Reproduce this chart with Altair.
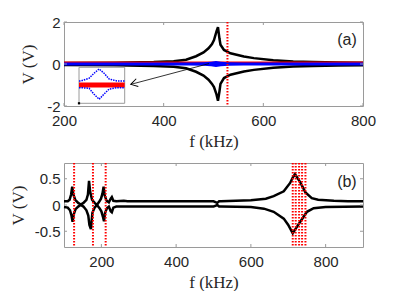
import altair as alt
import pandas as pd

W, H = 299, 84

# ---------------- Panel (a) data ----------------
a_f = [200, 300, 380, 420, 445, 465, 480, 490, 497, 501, 506, 509, 512, 514, 521, 534, 561, 581, 620, 660, 700, 750, 800]
a_up = [0.05, 0.06, 0.09, 0.13, 0.2, 0.37, 0.55, 0.75, 0.95, 1.14, 1.55, 1.75, 1.2, 0.92, 0.67, 0.51, 0.36, 0.28, 0.18, 0.12, 0.09, 0.07, 0.06]
a_lo = [-0.05, -0.06, -0.09, -0.13, -0.2, -0.37, -0.55, -0.75, -0.95, -1.1, -1.45, -1.75, -1.3, -0.95, -0.67, -0.51, -0.36, -0.28, -0.18, -0.12, -0.09, -0.07, -0.06]

a_blue_f = [200, 450, 480, 495, 505, 515, 530, 560, 800]
a_blue_up = [0.07, 0.07, 0.08, 0.11, 0.14, 0.11, 0.08, 0.07, 0.07]
a_blue_lo = [-0.07, -0.07, -0.08, -0.11, -0.14, -0.11, -0.08, -0.07, -0.07]

a_red_f = [200, 800]
a_red_v = [0.08, 0.08]

a_vlines = [528]

arrow_f = [491, 334]
arrow_v = [0.02, -0.97]

# inset (magnified blue / red traces)
in_f = [460, 464, 482, 493, 504, 515, 526, 543, 560]
in_blue_up = [0.029, 0.029, 0.047, 0.08, 0.109, 0.08, 0.042, 0.029, 0.029]
in_blue_lo = [-0.016, -0.016, -0.02, -0.06, -0.093, -0.058, -0.025, -0.016, -0.016]
in_red_f = [460, 560]
in_red_v = [0.002, 0.002]
in_dom_f = [460, 560]
in_dom_v = [-0.12, 0.12]

# ---------------- Panel (b) data ----------------
b_up_f = [100, 110, 115, 119, 122, 125, 130, 138, 145, 152, 160, 164, 167, 170, 175, 182, 188, 194, 199, 203,
          206, 209, 214, 220, 225, 228, 232, 240, 260, 270, 300, 400, 500, 510, 515, 520, 600, 640, 661, 688,
          705, 712, 718, 733, 746, 763, 780, 822, 860, 900]
b_up = [0.07, 0.07, 0.1, 0.2, 0.35, 0.2, 0.1, 0.04, 0.01, 0.04, 0.1, 0.2, 0.46, 0.25, 0.1, 0.04, 0.0, 0.06, 0.12, 0.22,
        0.35, 0.18, 0.08, 0.05, 0.12, 0.15, 0.08, 0.07, 0.08, 0.07, 0.07, 0.07, 0.07, 0.04, 0.07, 0.07, 0.09, 0.12, 0.17, 0.26,
        0.42, 0.52, 0.59, 0.42, 0.24, 0.13, 0.1, 0.08, 0.07, 0.07]
b_lo_f = [100, 110, 116, 120, 123, 126, 131, 138, 145, 152, 160, 165, 168, 172, 176, 182, 188, 195, 200, 204,
          207, 210, 215, 220, 225, 228, 232, 240, 300, 400, 500, 510, 515, 520, 600, 635, 661, 688, 700, 712,
          720, 733, 750, 768, 800, 900]
b_lo = [-0.04, -0.05, -0.1, -0.2, -0.32, -0.18, -0.08, -0.03, 0.0, -0.03, -0.1, -0.2, -0.38, -0.46, -0.15, -0.05, 0.0, -0.06, -0.12, -0.22,
        -0.31, -0.15, -0.06, -0.03, -0.12, -0.14, -0.05, -0.03, -0.03, -0.03, -0.03, 0.0, -0.03, -0.03, -0.04, -0.07, -0.13, -0.26, -0.38, -0.54,
        -0.45, -0.31, -0.13, -0.06, -0.04, -0.03]
b_vlines = [127, 177.5, 211.5, 712, 720, 729, 737, 746]

a_xticks = [200, 400, 600, 800]
a_yticks = [-2, 0, 2]
b_xticks = [200, 400, 600, 800]
b_yticks = [-0.5, 0, 0.5]

FRAME = "#9a9a9a"
TXT = "#262626"
LBL = "datum.value < 0 ? '-' + format(-datum.value, '') : format(datum.value, '')"


def make_panel(xdom, ydom, xticks, yticks, layers_fn, label, label_pos, ytitle_x):
    def X(field="f"):
        return alt.X(f"{field}:Q", scale=alt.Scale(domain=xdom, nice=False, zero=False),
                     axis=alt.Axis(values=xticks, title="f (kHz)", labelExpr=LBL, titlePadding=5,
                                   labelPadding=7))

    def Y(field="v"):
        return alt.Y(f"{field}:Q", scale=alt.Scale(domain=ydom, nice=False, zero=False),
                     axis=alt.Axis(values=yticks, title="V (V)", labelExpr=LBL, titleX=ytitle_x,
                                   titleY=H / 2))

    layers = layers_fn(X, Y)
    # inside ticks
    xt = pd.DataFrame({"f": xticks})
    yt = pd.DataFrame({"v": yticks})
    tk = dict(color=FRAME, strokeWidth=1)
    layers += [
        alt.Chart(xt).mark_rule(**tk).encode(x=X(), y=alt.value(0), y2=alt.value(3)),
        alt.Chart(xt).mark_rule(**tk).encode(x=X(), y=alt.value(H - 3), y2=alt.value(H)),
        alt.Chart(yt).mark_rule(**tk).encode(y=Y(), x=alt.value(0), x2=alt.value(3)),
        alt.Chart(yt).mark_rule(**tk).encode(y=Y(), x=alt.value(W - 3), x2=alt.value(W)),
    ]
    lab = pd.DataFrame({"f": [label_pos[0]], "v": [label_pos[1]], "t": [label]})
    layers.append(alt.Chart(lab).mark_text(font="Liberation Sans", fontSize=16, color=TXT,
                                           align="center", baseline="middle").encode(x=X(), y=Y(), text="t:N"))
    return layers


def layers_a(X, Y):
    black = pd.DataFrame({"f": a_f, "up": a_up, "lo": a_lo})
    blue = pd.DataFrame({"f": a_blue_f, "up": a_blue_up, "lo": a_blue_lo})
    red = pd.DataFrame({"f": a_red_f, "v": a_red_v})
    vl = pd.DataFrame({"f": a_vlines})
    arr = pd.DataFrame({"f": arrow_f, "v": arrow_v, "o": [0, 1]})
    head = pd.DataFrame({"f": arrow_f[1:], "v": arrow_v[1:]})
    return [
        alt.Chart(black).mark_line(color="black", strokeWidth=2.5).encode(x=X(), y=Y("up")),
        alt.Chart(black).mark_line(color="black", strokeWidth=2.5).encode(x=X(), y=Y("lo")),
        alt.Chart(red).mark_line(color="#ff0000", strokeWidth=1.5).encode(x=X(), y=Y()),
        alt.Chart(blue).mark_area(color="#0000ff", opacity=1).encode(x=X(), y=Y("lo"), y2="up:Q"),
        alt.Chart(vl).mark_rule(color="#ff0000", strokeWidth=2, strokeDash=[1.5, 1.5]).encode(x=X()),
        alt.Chart(arr).mark_line(color="black", strokeWidth=0.8).encode(x=X(), y=Y(), order="o:Q"),
        alt.Chart(head).mark_point(shape="M2,-1.2L0,0L2,1.2", filled=False, color="black", strokeWidth=1,
                                   size=45, angle=345, opacity=1).encode(x=X(), y=Y()),
    ]


def inset_layers():
    xs = alt.Scale(domain=in_dom_f, range=[15, 60.7], nice=False, zero=False)
    ys = alt.Scale(domain=in_dom_v, range=[81.3, 45.3], nice=False, zero=False)
    XI = lambda: alt.X("fi:Q", scale=xs, axis=None)
    YI = lambda fld="vi": alt.Y(f"{fld}:Q", scale=ys, axis=None)
    box = pd.DataFrame({"fi": [in_dom_f[0]], "fi2": [in_dom_f[1]], "vi": [in_dom_v[0]], "vi2": [in_dom_v[1]]})
    bl = pd.DataFrame({"fi": in_f, "up": in_blue_up, "lo": in_blue_lo})
    rd = pd.DataFrame({"fi": in_red_f, "vi": in_red_v})
    mk = pd.DataFrame({"fi": [in_dom_f[0]], "vi": [in_dom_v[0]]})
    return alt.layer(
        alt.Chart(box).mark_rect(fill="white", stroke=FRAME, strokeWidth=1).encode(
            x=XI(), x2="fi2:Q", y=YI(), y2="vi2:Q"),
        alt.Chart(rd).mark_line(color="#ff0000", strokeWidth=5).encode(x=XI(), y=YI()),
        alt.Chart(bl).mark_line(color="#0000ff", strokeWidth=1.5, strokeDash=[1.5, 1]).encode(x=XI(), y=YI("up")),
        alt.Chart(bl).mark_line(color="#0000ff", strokeWidth=1.5, strokeDash=[1.5, 1]).encode(x=XI(), y=YI("lo")),
        alt.Chart(mk).mark_square(color="black", size=5, opacity=1).encode(x=XI(), y=YI()),
    )


def layers_b(X, Y):
    up = pd.DataFrame({"f": b_up_f, "v": b_up})
    lo = pd.DataFrame({"f": b_lo_f, "v": b_lo})
    vl = pd.DataFrame({"f": b_vlines})
    return [
        alt.Chart(up).mark_line(color="black", strokeWidth=2.5).encode(x=X(), y=Y()),
        alt.Chart(lo).mark_line(color="black", strokeWidth=2.5).encode(x=X(), y=Y()),
        alt.Chart(vl).mark_rule(color="#ff0000", strokeWidth=2, strokeDash=[1.5, 1.5]).encode(x=X()),
    ]


pa = make_panel([200, 800], [-2, 2], a_xticks, a_yticks, layers_a, "(a)", (768, 1.14), -27)
main_a = alt.layer(*pa)
chart_a = alt.layer(main_a, inset_layers()).resolve_scale(x="independent", y="independent").properties(width=W, height=H)

pb = make_panel([100, 900], [-0.8, 0.8], b_xticks, b_yticks, layers_b, "(b)", (857, 0.44), -37)
chart_b = alt.layer(*pb).properties(width=W, height=H)

chart = alt.vconcat(chart_a, chart_b, spacing=11).properties(
    padding={"left": 0, "top": 6, "right": 5, "bottom": 0}
).configure_view(stroke=FRAME, strokeWidth=1).configure_axis(
    grid=False, domain=False, ticks=False, labelFlush=False,
    labelFont="Liberation Sans", labelFontSize=15, labelColor=TXT, labelPadding=4,
    titleFont="Liberation Serif", titleFontSize=17, titleFontWeight="normal", titleColor=TXT,
)

chart.save("out.html", embed_options={"renderer": "svg", "actions": False})
